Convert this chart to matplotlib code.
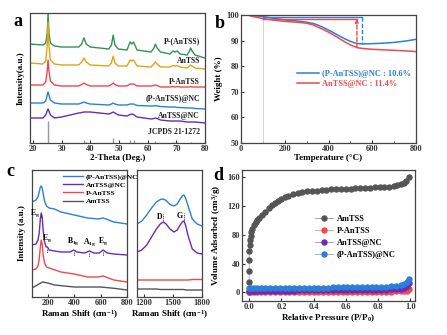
import matplotlib
matplotlib.use("Agg")
import matplotlib.pyplot as plt

plt.rcParams.update({
    "font.family": ["Liberation Serif", "DejaVu Serif"],
    "font.weight": "bold",
    "axes.labelweight": "bold",
    "mathtext.fontset": "custom",
    "mathtext.rm": "Liberation Serif:bold",
    "mathtext.it": "Liberation Serif:bold",
    "mathtext.bf": "Liberation Serif:bold",
    "xtick.direction": "in",
    "ytick.direction": "in",
    "axes.edgecolor": "#444444",
    "axes.linewidth": 0.9,
    "xtick.color": "#333333",
    "ytick.color": "#333333",
})

# ---------------- data: panel a (XRD) ----------------
two_theta = [19, 23.5, 24.5, 25.0, 25.3, 25.6, 26.1, 27.5, 30, 36, 37.0, 37.8, 38.6, 40,
             46.5, 47.4, 48.0, 48.6, 49.8, 52.8, 53.9, 54.5, 55.1, 56.3, 61.2, 62.2, 62.7,
             63.3, 64.5, 67.8, 68.8, 69.5, 70.3, 71.3, 73.8, 74.6, 75.0, 75.5, 76.5, 80]
xrd_p_anTSS_paren = [99, 98, 100, 110, 130, 110, 100, 97, 96, 96, 99, 105, 99, 96,
                     94, 98, 108, 98, 94, 93, 101, 99, 101, 93, 91, 95, 99,
                     95, 91, 89, 92, 91, 92, 89, 88, 92, 95, 92, 88, 85]
xrd_anTSS = [80, 79, 82, 98, 121, 98, 83, 79, 78, 78, 81, 85, 81, 78,
             77, 80, 87, 80, 77, 77, 83, 82, 83, 77, 76, 79, 81,
             79, 76, 76, 77.5, 77, 77.5, 76, 75, 77, 78, 77, 75, 74]
xrd_p_anTSS = [58, 58, 61, 72, 83, 72, 62, 58, 57, 57, 58.5, 60, 58.5, 57,
               57, 58.5, 60, 58.5, 57, 57, 59, 59, 59, 57, 57, 57.5, 58,
               57.5, 56, 56, 56.5, 56, 56.5, 56, 56, 56, 56.5, 56, 56, 56]
xrd_p_anTSS_nc = [40, 40, 42, 48, 51, 48, 43, 40, 39, 39, 40, 41, 40, 39,
                  38, 39, 40, 39, 38, 38, 39, 39, 39, 37.5, 37, 37, 37.5,
                  37, 36.5, 36, 36, 36, 35.5, 35.5, 35, 35, 35, 35, 34.5, 34]
xrd_anTSS_nc = [25, 25, 28, 32, 34, 32, 28, 25, 26, 30, 30.5, 31, 31, 31,
                29, 30, 31, 30, 28, 27, 28.5, 29, 28.5, 26, 24, 24.5, 25,
                24.5, 23, 22, 22, 22, 22, 22, 21, 21, 21, 21, 21, 20]
jcpds_pos = [25.3, 37.8, 38.6, 48.0, 53.9, 55.1, 62.7, 68.8, 70.3, 75.0]
jcpds_int = [22, 3, 1.5, 5, 3.5, 3.5, 2, 1.5, 1.5, 1.5]
xrd_labels = ["P-(AnTSS)", "AnTSS", "P-AnTSS", "(P-AnTSS)@NC", "AnTSS@NC", "JCPDS 21-1272"]
xrd_label_y = [102, 82, 61, 44, 27, 11]

# ---------------- data: panel b (TGA) ----------------
temp = [30, 50, 100, 150, 200, 250, 300, 330, 350, 375, 400, 425, 450, 475, 500, 520,
        540, 560, 600, 650, 700, 750, 800]
tga_p_anTSS_nc = [100.0, 99.8, 99.4, 98.7, 98.1, 97.7, 97.2, 96.7, 96.1, 95.2, 94.1, 93.0,
                  91.8, 90.7, 89.7, 89.1, 88.8, 88.7, 88.8, 89.0, 89.3, 89.8, 90.5]
tga_anTSS_nc = [100.0, 99.5, 98.6, 98.0, 97.5, 97.2, 96.8, 96.1, 95.3, 94.4, 93.3, 92.1,
                90.8, 89.5, 88.3, 87.6, 87.1, 86.9, 86.6, 86.4, 86.2, 86.0, 85.7]
tga_loss_labels = ["(P-AnTSS)@NC : 10.6%", "AnTSS@NC : 11.4%"]

# ---------------- data: panel c (Raman) ----------------
raman_lo_blue_x = [80, 110, 125, 135, 143, 150, 157, 165, 175, 190, 210, 250, 300, 400, 500,
                   580, 620, 660, 700, 800]
raman_lo_blue_y = [95, 97, 100, 105, 110, 111, 109, 103, 96, 91, 89, 88, 85, 82, 79,
                   78, 79, 77, 75, 73]
raman_lo_purple_x = [80, 110, 125, 135, 143, 150, 157, 165, 175, 188, 197, 210, 250, 300,
                     370, 395, 420, 480, 515, 550, 590, 620, 650, 700, 800]
raman_lo_purple_y = [52, 53, 57, 64, 78, 84, 80, 66, 55, 50, 50, 47, 46, 45,
                     45, 47, 45, 44, 46, 44, 44, 47, 44, 43, 42]
raman_lo_red_x = [80, 110, 125, 135, 143, 150, 157, 165, 175, 190, 210, 300, 400, 500,
                  580, 620, 660, 700, 800]
raman_lo_red_y = [27, 28, 31, 38, 50, 57, 53, 42, 34, 30, 29, 25, 23, 20,
                  20, 21, 19, 17, 15]
raman_lo_gray_x = [80, 120, 160, 200, 250, 400, 600, 700, 800]
raman_lo_gray_y = [9, 12, 15, 14, 12, 10, 10, 8.7, 7]
raman_hi_x = [1130, 1180, 1230, 1280, 1330, 1370, 1400, 1430, 1470, 1510, 1545, 1575, 1600,
              1614, 1630, 1660, 1700, 1750, 1800]
raman_hi_blue = [73, 76, 82, 89, 95, 97.5, 98, 96.5, 92.5, 91, 93, 98, 101.5,
                 102, 99, 90, 78, 73, 71]
raman_hi_purple = [45, 47, 52, 60, 68, 73, 75, 73, 68, 65, 67, 72, 75.5,
                   76, 72, 60, 48, 44, 43]
raman_hi_red = [17, 17, 17, 17, 17, 17, 17, 17, 17, 17, 17, 17, 17,
                17, 17, 17, 17.5, 17.5, 17.5]
raman_hi_gray = [8, 8, 8, 8, 8, 7.5, 7.5, 7.5, 7.5, 7.5, 7.5, 7.5, 7.5,
                 7.5, 7, 7, 7, 7, 7]
raman_names = ["(P-AnTSS)@NC", "AnTSS@NC", "P-AnTSS", "AmTSS"]

# ---------------- data: panel d (N2 isotherms) ----------------
p_am = [0.0, 0.0, 0.0, 0.0, 0.0, 0.002, 0.004, 0.008, 0.012, 0.02, 0.03, 0.04, 0.05, 0.06,
        0.08, 0.1, 0.12, 0.14, 0.16, 0.18, 0.2, 0.22, 0.24, 0.27, 0.3, 0.33, 0.36, 0.39,
        0.42, 0.45, 0.48, 0.51, 0.54, 0.57, 0.6, 0.63, 0.66, 0.69, 0.72, 0.75, 0.78, 0.81,
        0.84, 0.87, 0.9, 0.92, 0.94, 0.96, 0.975, 0.99]
v_am = [1, 14, 30, 45, 57, 66, 73, 79, 84, 88, 93, 98, 101, 103, 107, 112, 117, 121, 124,
        127, 130, 132, 134, 136, 138, 139.5, 140.5, 141, 141.5, 142, 142.5, 143, 143, 143.5,
        144, 144, 144.5, 145, 145, 145.5, 146, 146, 146.5, 147, 148, 149, 150, 152, 155, 160]
p_low = [0.0, 0.01, 0.03, 0.05, 0.07, 0.1, 0.13, 0.16, 0.19, 0.22, 0.25, 0.28, 0.31, 0.34,
         0.37, 0.4, 0.43, 0.46, 0.49, 0.52, 0.55, 0.58, 0.61, 0.64, 0.67, 0.7, 0.73, 0.76,
         0.79, 0.82, 0.85, 0.88, 0.91, 0.94, 0.96, 0.98, 0.99]
v_p_anTSS = [0.5, 0.3, 0.4, 0.4, 0.5, 0.5, 0.6, 0.6, 0.6, 0.6, 0.7, 0.7, 0.7, 0.7, 0.7, 0.8,
             0.8, 0.8, 0.8, 0.8, 0.8, 0.9, 0.9, 0.9, 0.9, 0.9, 1.0, 1.0, 1.0, 1.0, 1.1, 1.1,
             1.2, 1.4, 1.8, 2.5, 4.5]
v_anTSS_nc = [2.0, 1.5, 1.8, 2.0, 2.1, 2.2, 2.3, 2.3, 2.4, 2.4, 2.5, 2.5, 2.6, 2.6, 2.6, 2.7,
              2.7, 2.8, 2.8, 2.9, 2.9, 3.0, 3.0, 3.1, 3.1, 3.2, 3.3, 3.4, 3.5, 3.6, 3.8, 4.0,
              4.4, 5.2, 6.5, 9.0, 13.0]
v_p_anTSS_nc = [6.5, 5.5, 5.8, 6.0, 6.1, 6.2, 6.3, 6.3, 6.4, 6.4, 6.5, 6.5, 6.5, 6.6, 6.6,
                6.6, 6.7, 6.7, 6.7, 6.8, 6.8, 6.9, 6.9, 7.0, 7.0, 7.1, 7.2, 7.3, 7.5, 7.7,
                7.9, 8.2, 8.8, 9.8, 11.0, 14.0, 18.0]
bet_names = ["AmTSS", "P-AnTSS", "AnTSS@NC", "(P-AnTSS)@NC"]

# ---------------- colours ----------------
GREEN = "#2f9358"
YELLOW = "#e0a416"
RED = "#f0484c"
BLUE = "#2c7fd6"
PURPLE = "#6a2bb8"
GRAY = "#555555"

W, H = 447, 335
fig = plt.figure(figsize=(W / 100, H / 100), dpi=100)


def ax_px(l, r, t, b):
    return fig.add_axes([l / W, (H - b) / H, (r - l) / W, (b - t) / H])


FS_TICK = 6
FS_LAB = 6.5
FS_TXT = 5.6

# ---------------- panel a ----------------
ax = ax_px(30, 205, 13, 143)
ax.plot(two_theta, xrd_p_anTSS_paren, color=GREEN, lw=1.0)
ax.plot(two_theta, xrd_anTSS, color=YELLOW, lw=1.0)
ax.plot(two_theta, xrd_p_anTSS, color=RED, lw=1.0)
ax.plot(two_theta, xrd_p_anTSS_nc, color=BLUE, lw=1.0)
ax.plot(two_theta, xrd_anTSS_nc, color=PURPLE, lw=1.0)
ax.vlines(jcpds_pos, 0, jcpds_int, color="#999999", lw=1.0)
for lab, yy in zip(xrd_labels, xrd_label_y):
    ax.text(78.3, yy, lab, ha="right", va="center", fontsize=FS_TXT, fontweight="bold", color="#222222")
ax.set_xlim(19, 80)
ax.set_ylim(0, 130)
ax.set_xticks([20, 30, 40, 50, 60, 70, 80])
ax.set_yticks([])
ax.tick_params(labelsize=FS_TICK, length=2.5, pad=1.5)
ax.set_xlabel("2-Theta (Deg.)", fontsize=FS_LAB, labelpad=1)
ax.set_ylabel("Intensity(a.u.)", fontsize=FS_LAB, labelpad=4)
fig.text(18 / W, 1 - 22 / H, "a", fontsize=13, fontweight="bold", ha="center", va="center")

# ---------------- panel b ----------------
ax = ax_px(241, 416, 15, 143)
ax.axvline(100, color="#cccccc", lw=0.6)
lb, = ax.plot(temp, tga_p_anTSS_nc, color=BLUE, lw=1.1)
lr, = ax.plot(temp, tga_anTSS_nc, color=RED, lw=1.1)
blue_top = tga_p_anTSS_nc[2]
red_top = tga_anTSS_nc[2]
ax.plot([100, 553], [blue_top, blue_top], color=BLUE, lw=1.0)
ax.plot([553, 553], [blue_top, blue_top - 10.6], color=BLUE, lw=1.0, ls=(0, (3, 1.5)))
ax.plot([100, 530], [red_top, red_top], color=RED, lw=1.0)
ax.annotate("", xy=(530, red_top), xytext=(530, red_top - 11.4),
            arrowprops=dict(arrowstyle="-|>", color=RED, lw=1.0, ls=(0, (3, 1.5)),
                            mutation_scale=5, shrinkA=0, shrinkB=0))
ax.set_xlim(0, 800)
ax.set_ylim(50, 100)
ax.set_xticks([0, 200, 400, 600, 800])
ax.set_xticks([100, 300, 500, 700], minor=True)
ax.set_yticks([50, 60, 70, 80, 90, 100])
ax.tick_params(labelsize=FS_TICK, length=2.5, pad=1.5)
ax.tick_params(which="minor", length=1.5)
ax.set_xlabel("Temperature (°C)", fontsize=FS_LAB, labelpad=1)
ax.set_ylabel("Weight (%)", fontsize=FS_LAB, labelpad=2)
leg = ax.legend([lb, lr], tga_loss_labels, loc="upper left", bbox_to_anchor=(0.3, 0.6),
                frameon=False, fontsize=FS_TXT + 0.4, handlelength=2.6, handletextpad=0.4,
                labelspacing=0.3, borderaxespad=0)
for t, c in zip(leg.get_texts(), [BLUE, RED]):
    t.set_color(c)
fig.text(220 / W, 1 - 23 / H, "b", fontsize=13, fontweight="bold", ha="center", va="center")

# ---------------- panel c ----------------
axl = ax_px(32, 127, 170, 297)
hb, = axl.plot(raman_lo_blue_x, raman_lo_blue_y, color=BLUE, lw=1.0)
hp, = axl.plot(raman_lo_purple_x, raman_lo_purple_y, color=PURPLE, lw=1.0)
hr, = axl.plot(raman_lo_red_x, raman_lo_red_y, color=RED, lw=1.0)
hg, = axl.plot(raman_lo_gray_x, raman_lo_gray_y, color=GRAY, lw=1.0)
axl.set_xlim(80, 800)
axl.set_ylim(0, 127)
axl.set_xticks([200, 400, 600, 800])
axl.set_yticks([])
axl.tick_params(labelsize=FS_TICK, length=2.5, pad=1.5)
axl.set_xlabel("Raman Shift (cm$^{-1}$)", fontsize=FS_LAB, labelpad=1)
axl.set_ylabel("Intensity (a.u.)", fontsize=FS_LAB, labelpad=4)
axl.legend([hb, hp, hr, hg], raman_names, loc="upper left", bbox_to_anchor=(0.28, 1.01),
           frameon=False, fontsize=FS_TXT - 0.2, handlelength=2.6, handletextpad=0.4,
           labelspacing=0.25, borderaxespad=0.2)
peak_marks = [(150, "E$_g$", 84, -1), (197, "E$_g$", 49, 0), (395, "B$_{1g}$", 46, 0),
              (515, "A$_{1g}$", 45, 0), (620, "E$_g$", 46, 0)]
for xx, lab, yy, side in peak_marks:
    axl.plot([xx, xx], [yy - 0.5, yy - 5], color="#333333", lw=0.6, ls=(0, (1.5, 1)))
for xx, lab, yy, side in peak_marks:
    if side < 0:
        axl.text(xx - 10, yy, lab, fontsize=FS_TXT, ha="right", va="center")
    else:
        axl.text(xx, yy + 10, lab, fontsize=FS_TXT, ha="center", va="center")

axr = ax_px(137, 202, 170, 297)
axr.plot(raman_hi_x, raman_hi_blue, color=BLUE, lw=1.0)
axr.plot(raman_hi_x, raman_hi_purple, color=PURPLE, lw=1.0)
axr.plot(raman_hi_x, raman_hi_red, color=RED, lw=1.0)
axr.plot(raman_hi_x, raman_hi_gray, color=GRAY, lw=1.0)
for xx, lab, yy in [(1400, "D", 75), (1614, "G", 76)]:
    axr.plot([xx, xx], [yy + 1, yy + 8], color="#333333", lw=0.6, ls=(0, (1.5, 1)))
    axr.text(xx - 12, yy + 5, lab, fontsize=FS_TXT, ha="right", va="center")
axr.set_xlim(1130, 1800)
axr.set_ylim(0, 127)
axr.set_xticks([1200, 1500, 1800])
axr.set_yticks([])
axr.tick_params(labelsize=FS_TICK, length=2.5, pad=1.5)
axr.set_xlabel("Raman Shift (cm$^{-1}$)", fontsize=FS_LAB, labelpad=1)
fig.text(10 / W, 1 - 172 / H, "c", fontsize=13, fontweight="bold", ha="center", va="center")

# ---------------- panel d ----------------
ax = ax_px(242, 415, 170, 301)
series = [(p_am, v_am, GRAY, "#aaaaaa"), (p_low, v_p_anTSS, RED, "#f7a0a0"),
          (p_low, v_anTSS_nc, PURPLE, "#b39ad9"), (p_low, v_p_anTSS_nc, BLUE, "#8fb9ea")]
handles = []
for (px, py, c, lc) in series:
    ax.plot(px, py, color=lc, lw=0.6, zorder=1)
    ax.plot(px, py, ls="none", marker="o", ms=3.6, color=c, mec=c, zorder=2)
    h, = ax.plot([], [], color=lc, lw=0.7, marker="o", ms=3.6, mfc=c, mec=c)
    handles.append(h)
ax.set_xlim(-0.045, 1.03)
ax.set_ylim(-12, 170)
ax.set_xticks([0.0, 0.2, 0.4, 0.6, 0.8, 1.0])
ax.set_xticklabels(["0.0", "0.2", "0.4", "0.6", "0.8", "1.0"])
ax.set_yticks([0, 40, 80, 120, 160])
ax.tick_params(labelsize=FS_TICK, length=2.5, pad=1.5)
ax.set_xlabel("Relative Pressure (P/P$_0$)", fontsize=FS_LAB, labelpad=1)
ax.set_ylabel("Volume Adsorbed (cm$^3$/g)", fontsize=FS_LAB, labelpad=3)
ax.legend(handles, bet_names, loc="upper left", bbox_to_anchor=(0.4, 0.68), frameon=False,
          fontsize=FS_TXT + 0.4, handlelength=2.2, handletextpad=0.5, labelspacing=0.45,
          borderaxespad=0)
fig.text(218 / W, 1 - 176 / H, "d", fontsize=13, fontweight="bold", ha="center", va="center")

fig.savefig("out.png", dpi=100)
